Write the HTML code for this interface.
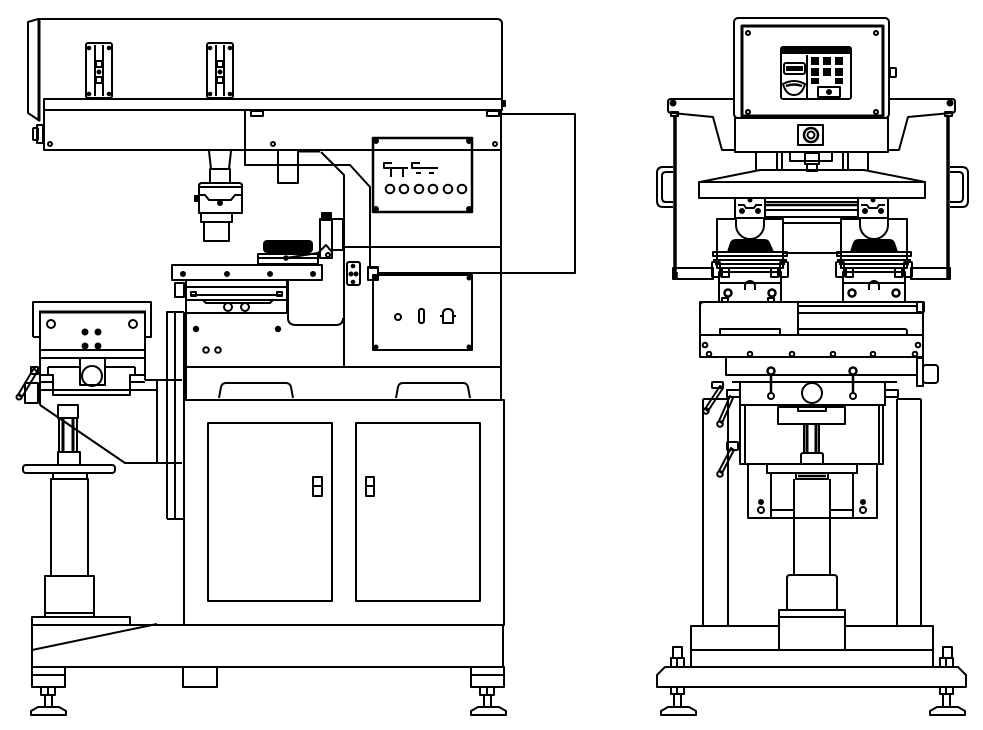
<!DOCTYPE html>
<html><head><meta charset="utf-8"><style>html,body{margin:0;padding:0;background:#fff}svg{display:block}</style></head>
<body>
<svg width="983" height="730" viewBox="0 0 983 730" xmlns="http://www.w3.org/2000/svg">
<rect x="0" y="0" width="983" height="730" fill="#fff"/>
<g fill="none" stroke="#000" stroke-width="2" stroke-linejoin="round">

<!-- ================= LEFT MACHINE ================= -->
<!-- top housing -->
<path d="M38,19 H497 Q502,19 502,24 V99"/>
<path d="M38,19 L28,22 V113 L40,121"/>
<line x1="39" y1="19" x2="39" y2="121" stroke-width="3"/>
<rect x="44" y="99" width="458" height="11"/>
<rect x="44" y="110" width="457" height="40"/>
<circle cx="50" cy="144" r="2"/>
<circle cx="273" cy="144" r="2"/>
<circle cx="495" cy="144" r="2"/>
<rect x="502" y="101" width="3" height="5" fill="#000"/>
<rect x="37" y="125" width="6" height="18"/>
<rect x="33" y="128" width="5" height="12" rx="1"/>
<!-- clips -->
<rect x="251" y="111" width="12" height="5"/>
<rect x="487" y="111" width="12" height="5"/>

<!-- brackets -->
<rect x="86" y="43" width="26" height="55" rx="2"/>
<line x1="95" y1="45" x2="95" y2="96"/><line x1="103" y1="45" x2="103" y2="96"/>
<rect x="96" y="61" width="6" height="6" fill="#fff"/><rect x="96" y="77" width="6" height="6" fill="#fff"/>
<circle cx="99" cy="72" r="1.5" fill="#000"/>
<circle cx="89" cy="48" r="1.3" fill="#000"/><circle cx="109" cy="48" r="1.3" fill="#000"/>
<circle cx="89" cy="94" r="1.3" fill="#000"/><circle cx="109" cy="94" r="1.3" fill="#000"/>
<rect x="207" y="43" width="26" height="55" rx="2"/>
<line x1="216" y1="45" x2="216" y2="96"/><line x1="224" y1="45" x2="224" y2="96"/>
<rect x="217" y="61" width="6" height="6" fill="#fff"/><rect x="217" y="77" width="6" height="6" fill="#fff"/>
<circle cx="220" cy="72" r="1.5" fill="#000"/>
<circle cx="210" cy="48" r="1.3" fill="#000"/><circle cx="230" cy="48" r="1.3" fill="#000"/>
<circle cx="210" cy="94" r="1.3" fill="#000"/><circle cx="230" cy="94" r="1.3" fill="#000"/>

<!-- cable / frame lines -->
<path d="M245,110 V165 H350 L370,187 V268 H378 V280"/>
<path d="M501,114 H575 V273 H378"/>
<rect x="368" y="267" width="10" height="13"/>
<line x1="298" y1="151" x2="320" y2="151" stroke-width="3"/>
<path d="M321,152 L344,175 V367"/>
<rect x="278" y="150" width="20" height="33"/>
<line x1="501" y1="110" x2="501" y2="400"/>
<line x1="344" y1="247" x2="501" y2="247"/>

<!-- print head -->
<path d="M209,151 L211,169 H229 L231,151"/>
<rect x="210" y="169" width="20" height="14"/>
<path d="M199,213 V186 Q199,183 202,183 H239 Q242,183 242,186 V213 Z"/>
<line x1="199" y1="187" x2="242" y2="187"/>
<path d="M199,195 H205 L209,200 H231 L235,195 H242"/>
<circle cx="220" cy="203" r="2" fill="#000"/>
<rect x="195" y="196" width="4" height="5" fill="#000"/>
<rect x="201" y="213" width="31" height="9"/>
<rect x="204" y="222" width="25" height="19"/>

<!-- ink cup -->
<rect x="264" y="241" width="48" height="11" rx="3" fill="#000"/>
<rect x="258" y="254" width="60" height="10"/>
<line x1="258" y1="258" x2="318" y2="258"/>
<rect x="320" y="219" width="12" height="39"/>
<rect x="332" y="219" width="11" height="31"/>
<rect x="322" y="213" width="9" height="7" fill="#000"/>
<path d="M286,258 L318,253 L326,245 L332,252"/>
<circle cx="286" cy="258" r="1.8"/><circle cx="328" cy="255" r="2"/>

<!-- slide table -->
<rect x="172" y="265" width="150" height="15"/>
<circle cx="183" cy="274" r="2" fill="#000"/><circle cx="227" cy="274" r="2" fill="#000"/>
<circle cx="270" cy="274" r="2" fill="#000"/><circle cx="313" cy="274" r="2" fill="#000"/>
<rect x="186" y="280" width="101" height="33"/>
<line x1="186" y1="287" x2="287" y2="287"/>
<line x1="190" y1="295" x2="283" y2="295"/>
<path d="M203,300 L206,303 H270 L273,300"/>
<line x1="186" y1="300" x2="287" y2="300"/>
<rect x="191" y="292" width="5" height="4"/><rect x="277" y="292" width="5" height="4"/>
<circle cx="228" cy="307" r="4"/><circle cx="245" cy="307" r="4"/>
<rect x="175" y="283" width="9" height="14"/>
<path d="M288,280 V318 Q288,325 296,325 H336 Q343,325 343,318"/>

<!-- column under table -->
<path d="M167,519 V312 H184"/>
<line x1="175" y1="312" x2="175" y2="519"/>
<line x1="167" y1="519" x2="184" y2="519"/>
<line x1="185" y1="312" x2="185" y2="400" stroke-width="4"/>
<line x1="184" y1="400" x2="184" y2="625"/>
<line x1="186" y1="367" x2="502" y2="367"/>
<circle cx="196" cy="329" r="2.2" fill="#000"/><circle cx="278" cy="329" r="2.2" fill="#000"/>
<circle cx="206" cy="350" r="2.8"/><circle cx="218" cy="350" r="2.8"/>

<!-- upper control panel -->
<rect x="373" y="138" width="99" height="74" stroke-width="2.5"/>
<circle cx="376" cy="141" r="2" fill="#000"/><circle cx="469" cy="141" r="2" fill="#000"/>
<circle cx="376" cy="209" r="2" fill="#000"/><circle cx="469" cy="209" r="2" fill="#000"/>
<path d="M392,163 H384 V168 H408"/>
<line x1="391" y1="168" x2="391" y2="177"/><line x1="403" y1="168" x2="403" y2="177"/>
<path d="M420,163 H412 V168 H438"/>
<line x1="416" y1="173" x2="421" y2="173"/><line x1="429" y1="173" x2="434" y2="173"/>
<circle cx="390" cy="189" r="4.3"/><circle cx="404" cy="189" r="4.3"/>
<circle cx="419" cy="189" r="4.3"/><circle cx="433" cy="189" r="4.3"/>
<circle cx="448" cy="189" r="4.3"/><circle cx="462" cy="189" r="4.3"/>

<!-- bracket between -->
<rect x="347" y="262" width="13" height="23" rx="2"/>
<circle cx="351" cy="274" r="1.5" fill="#000"/><circle cx="356" cy="274" r="1.5" fill="#000"/>
<circle cx="353" cy="266" r="1.3" fill="#000"/><circle cx="353" cy="282" r="1.3" fill="#000"/>

<!-- lower control panel -->
<rect x="373" y="275" width="99" height="75"/>
<circle cx="376" cy="278" r="1.5" fill="#000"/><circle cx="469" cy="278" r="1.5" fill="#000"/>
<circle cx="376" cy="347" r="1.5" fill="#000"/><circle cx="469" cy="347" r="1.5" fill="#000"/>
<circle cx="398" cy="317" r="3"/>
<rect x="419" y="309" width="5" height="14" rx="2"/>
<path d="M443,323 V314 Q443,309 448,309 Q453,309 453,314 V323 Z M440,316 H443 M453,316 H456"/>

<!-- cabinet -->
<rect x="184" y="400" width="320" height="225"/>
<path d="M219,398 L221,387 Q222,383 226,383 H286 Q290,383 291,387 L293,398"/>
<path d="M396,398 L398,387 Q399,383 403,383 H463 Q467,383 468,387 L470,398"/>
<rect x="208" y="423" width="124" height="178"/>
<rect x="356" y="423" width="124" height="178"/>
<rect x="313" y="477" width="9" height="19"/><line x1="313" y1="486" x2="322" y2="486"/>
<rect x="366" y="477" width="8" height="19"/><line x1="366" y1="486" x2="374" y2="486"/>

<!-- base -->
<rect x="32" y="625" width="471" height="42"/>
<rect x="32" y="617" width="98" height="8"/>
<line x1="32" y1="650" x2="157" y2="624"/>
<rect x="32" y="667" width="33" height="20"/><line x1="32" y1="675" x2="65" y2="675"/>
<rect x="471" y="667" width="33" height="20"/><line x1="471" y1="675" x2="504" y2="675"/>
<rect x="183" y="667" width="34" height="20"/>
<rect x="41" y="687" width="14" height="8"/><line x1="48" y1="687" x2="48" y2="695"/>
<line x1="45" y1="695" x2="45" y2="707"/><line x1="52" y1="695" x2="52" y2="707"/>
<path d="M31,715 V711 L38,707 H59 L66,711 V715 Z"/>
<rect x="480" y="687" width="14" height="8"/><line x1="487" y1="687" x2="487" y2="695"/>
<line x1="484" y1="695" x2="484" y2="707"/><line x1="491" y1="695" x2="491" y2="707"/>
<path d="M471,715 V711 L478,707 H499 L506,711 V715 Z"/>

<!-- left station -->
<path d="M33,337 V302 H151 V337 H145 M33,337 H40"/>
<line x1="39" y1="312" x2="146" y2="312" stroke-width="3"/>
<line x1="40" y1="312" x2="40" y2="405" stroke-width="2"/>
<line x1="145" y1="312" x2="145" y2="380"/>
<circle cx="51" cy="324" r="4"/><circle cx="133" cy="324" r="4"/>
<circle cx="85" cy="332" r="2.5" fill="#000"/><circle cx="98" cy="332" r="2.5" fill="#000"/>
<circle cx="85" cy="346" r="2.5" fill="#000"/><circle cx="98" cy="346" r="2.5" fill="#000"/>
<line x1="40" y1="350" x2="145" y2="350"/>
<line x1="40" y1="358" x2="145" y2="358"/>
<rect x="80" y="358" width="25" height="27"/>
<circle cx="92" cy="376" r="10"/>
<path d="M48,367 H80 M105,367 H135 M48,367 V375 H40 M48,375 H53 V395 H130 V375 H145 M135,367 V375"/>
<line x1="40" y1="382" x2="53" y2="382"/><line x1="130" y1="382" x2="145" y2="382"/>
<line x1="40" y1="390" x2="157" y2="390"/>
<path d="M145,380 H182"/>
<path d="M40,405 L125,463 H182"/>
<line x1="157" y1="380" x2="157" y2="463"/>
<path d="M25,383 H38 V403 H25 Z"/>
<path d="M34,368 L37,372 L22,397 L18,395 Z"/>
<circle cx="19" cy="397" r="2.5"/>
<rect x="31" y="367" width="7" height="7"/>
<!-- column under station -->
<rect x="58" y="405" width="20" height="13"/>
<line x1="63" y1="418" x2="63" y2="452" stroke-width="3"/><line x1="73" y1="418" x2="73" y2="452" stroke-width="3"/>
<line x1="59" y1="418" x2="59" y2="452"/><line x1="77" y1="418" x2="77" y2="452"/>
<rect x="58" y="452" width="22" height="13"/>
<rect x="23" y="465" width="92" height="8" rx="3"/>
<rect x="53" y="473" width="34" height="6"/>
<rect x="51" y="479" width="37" height="97"/>
<rect x="45" y="576" width="49" height="41"/>
<line x1="45" y1="613" x2="94" y2="613"/>

<!-- ================= RIGHT MACHINE ================= -->
<rect x="734" y="18" width="155" height="100" rx="4"/>
<rect x="742" y="26" width="141" height="90" stroke-width="3"/>
<circle cx="748" cy="33" r="2"/><circle cx="876" cy="33" r="2"/>
<circle cx="748" cy="112" r="2"/><circle cx="876" cy="112" r="2"/>
<rect x="890" y="68" width="6" height="9" rx="1"/>
<!-- display -->
<rect x="781" y="47" width="70" height="52" rx="2"/>
<rect x="782" y="48" width="68" height="6" fill="#000" stroke="none"/>
<rect x="784" y="63" width="21" height="11" rx="2"/>
<rect x="786" y="66" width="17" height="5" fill="#000" stroke="none"/>
<path d="M783,84 Q794,78 805,84 Q802,95 794,95 Q786,95 783,84 Z"/>
<path d="M786,86 Q794,83 802,86" stroke-width="2.5"/>
<line x1="807" y1="55" x2="807" y2="98"/>
<rect x="811" y="57" width="8" height="8" fill="#000" stroke="none"/>
<rect x="823" y="57" width="8" height="8" fill="#000" stroke="none"/>
<rect x="835" y="57" width="8" height="8" fill="#000" stroke="none"/>
<rect x="811" y="68" width="8" height="8" fill="#000" stroke="none"/>
<rect x="823" y="68" width="8" height="8" fill="#000" stroke="none"/>
<rect x="835" y="68" width="8" height="8" fill="#000" stroke="none"/>
<rect x="811" y="78" width="8" height="6" fill="#000" stroke="none"/>
<rect x="835" y="78" width="8" height="6" fill="#000" stroke="none"/>
<rect x="818" y="87" width="22" height="10"/>
<circle cx="829" cy="92" r="2" fill="#000"/>
<!-- lower box and wings -->
<rect x="735" y="118" width="153" height="34"/>
<rect x="798" y="125" width="25" height="20"/>
<circle cx="811" cy="135" r="7" stroke-width="2.5"/>
<circle cx="811" cy="135" r="3.5"/>
<path d="M734,99 H671 Q668,99 668,102 V110 Q668,113 672,113 L713,117 L722,150 H735"/>
<path d="M889,99 H952 Q955,99 955,102 V110 Q955,113 951,113 L908,117 L899,150 H888"/>
<circle cx="673" cy="103" r="2.5" fill="#000"/><circle cx="950" cy="103" r="2.5" fill="#000"/>
<rect x="671" y="112" width="7" height="4"/><rect x="945" y="112" width="7" height="4"/>
<line x1="675" y1="116" x2="675" y2="278" stroke-width="3.5"/>
<line x1="948" y1="116" x2="948" y2="278" stroke-width="3.5"/>
<path d="M673,278 V272 M677,278 V272" stroke-width="1.5"/>
<!-- handles -->
<path d="M673,167 H663 Q657,167 657,173 V201 Q657,207 663,207 H673"/>
<path d="M673,172 H666 Q662,172 662,176 V198 Q662,202 666,202 H673"/>
<path d="M950,167 H962 Q968,167 968,173 V201 Q968,207 962,207 H950"/>
<path d="M950,172 H959 Q963,172 963,176 V198 Q963,202 959,202 H950"/>
<!-- under box -->
<line x1="756" y1="152" x2="756" y2="171"/>
<line x1="777" y1="152" x2="777" y2="171"/>
<line x1="782" y1="152" x2="782" y2="171"/>
<rect x="790" y="152" width="42" height="9"/>
<rect x="805" y="153" width="14" height="11"/>
<rect x="807" y="164" width="10" height="7"/>
<line x1="843" y1="152" x2="843" y2="171"/>
<line x1="848" y1="152" x2="848" y2="171"/>
<line x1="868" y1="152" x2="868" y2="171"/>
<!-- plate -->
<path d="M700,182 L760,170 H864 L925,182"/>
<rect x="699" y="182" width="226" height="16"/>
<!-- rail -->
<rect x="765" y="202" width="93" height="15"/>
<line x1="765" y1="205" x2="858" y2="205" stroke-width="2.5"/>
<line x1="765" y1="210" x2="858" y2="210"/>
<!-- heads -->
<rect x="735" y="198" width="30" height="20"/>
<path d="M738,205 H744 L746,208 H754 L756,205 H762"/>
<circle cx="750" cy="200" r="1.5" fill="#000"/>
<circle cx="742" cy="211" r="2" fill="#000"/><circle cx="758" cy="211" r="2" fill="#000"/>
<rect x="858" y="198" width="30" height="20"/>
<path d="M861,205 H867 L869,208 H877 L879,205 H885"/>
<circle cx="873" cy="200" r="1.5" fill="#000"/>
<circle cx="865" cy="211" r="2" fill="#000"/><circle cx="881" cy="211" r="2" fill="#000"/>

<rect x="717" y="219" width="66" height="49"/>
<rect x="841" y="219" width="66" height="49"/>
<line x1="783" y1="223" x2="841" y2="223"/>
<line x1="783" y1="253" x2="841" y2="253"/>
<!-- left head inner -->
<path d="M736,219 V225 A14,14 0 0 0 764,225 V219" fill="#fff"/>
<path d="M728,252 L731,243 Q732,240 736,240 H764 Q768,240 769,243 L773,252 Z" fill="#000"/>
<rect x="713" y="252" width="74" height="4"/>
<line x1="713" y1="260" x2="787" y2="260"/>
<line x1="715" y1="264" x2="785" y2="264"/>
<rect x="712" y="262" width="8" height="15" rx="1"/>
<rect x="780" y="262" width="8" height="15" rx="1"/>
<rect x="722" y="268" width="7" height="9"/>
<rect x="771" y="268" width="7" height="9"/>
<rect x="719" y="272" width="62" height="30"/>
<line x1="719" y1="283" x2="781" y2="283"/>
<path d="M745,290 V286 A5,5 0 0 1 755,286 V290"/>
<circle cx="728" cy="293" r="3.5" stroke-width="2.5"/>
<circle cx="772" cy="293" r="3.5" stroke-width="2.5"/>
<!-- right head inner -->
<path d="M860,219 V225 A14,14 0 0 0 888,225 V219" fill="#fff"/>
<path d="M851,252 L854,243 Q855,240 859,240 H889 Q893,240 894,243 L897,252 Z" fill="#000"/>
<rect x="837" y="252" width="74" height="4"/>
<line x1="837" y1="260" x2="911" y2="260"/>
<line x1="839" y1="264" x2="909" y2="264"/>
<rect x="836" y="262" width="8" height="15" rx="1"/>
<rect x="904" y="262" width="8" height="15" rx="1"/>
<rect x="846" y="268" width="7" height="9"/>
<rect x="895" y="268" width="7" height="9"/>
<rect x="843" y="272" width="62" height="30"/>
<line x1="843" y1="283" x2="905" y2="283"/>
<path d="M869,290 V286 A5,5 0 0 1 879,286 V290"/>
<circle cx="852" cy="293" r="3.5" stroke-width="2.5"/>
<circle cx="896" cy="293" r="3.5" stroke-width="2.5"/>
<!-- side bars -->
<rect x="673" y="268" width="40" height="11"/>
<rect x="911" y="268" width="39" height="11"/>

<!-- table -->
<rect x="700" y="302" width="223" height="55"/>
<path d="M700,335 V306 Q700,302 704,302 H798 V335"/>
<line x1="798" y1="306" x2="917" y2="306"/>
<line x1="798" y1="313" x2="922" y2="313"/>
<rect x="798" y="329" width="109" height="6" rx="2"/>
<rect x="720" y="329" width="60" height="6"/>
<line x1="700" y1="335" x2="923" y2="335"/>
<rect x="917" y="302" width="7" height="10" rx="1"/>
<path d="M722,302 V298 H728 V302 M768,302 V298 H774 V302"/>
<circle cx="705" cy="345" r="2.3"/><circle cx="918" cy="345" r="2.3"/>
<circle cx="709" cy="354" r="2.3"/><circle cx="750" cy="354" r="2.3"/>
<circle cx="792" cy="354" r="2.3"/><circle cx="833" cy="354" r="2.3"/>
<circle cx="873" cy="354" r="2.3"/><circle cx="915" cy="354" r="2.3"/>
<!-- below table -->
<rect x="726" y="357" width="191" height="18"/>
<line x1="732" y1="382" x2="897" y2="382"/>
<rect x="917" y="358" width="6" height="28"/>
<rect x="923" y="365" width="15" height="18" rx="3"/>
<circle cx="771" cy="371" r="3.5" stroke-width="2.5"/>
<circle cx="853" cy="371" r="3.5" stroke-width="2.5"/>
<line x1="771" y1="375" x2="771" y2="393" stroke-width="2.5"/>
<line x1="853" y1="375" x2="853" y2="393" stroke-width="2.5"/>
<circle cx="771" cy="396" r="3"/><circle cx="853" cy="396" r="3"/>
<path d="M740,382 V405 H885 V382"/>
<rect x="727" y="390" width="13" height="7"/>
<rect x="885" y="390" width="13" height="7"/>
<circle cx="812" cy="393" r="10"/>
<!-- body -->
<rect x="740" y="405" width="143" height="59"/>
<line x1="745" y1="405" x2="745" y2="464"/>
<line x1="879" y1="405" x2="879" y2="464"/>
<rect x="778" y="407" width="67" height="17"/>
<rect x="798" y="407" width="28" height="4"/>
<rect x="804" y="424" width="15" height="29"/>
<line x1="807" y1="424" x2="807" y2="453" stroke-width="3"/>
<line x1="816" y1="424" x2="816" y2="453" stroke-width="3"/>
<path d="M801,464 V455 Q801,453 803,453 H821 Q823,453 823,455 V464"/>
<rect x="767" y="464" width="90" height="9"/>
<rect x="748" y="464" width="129" height="54"/>
<line x1="771" y1="473" x2="771" y2="518"/>
<line x1="853" y1="473" x2="853" y2="518"/>
<line x1="771" y1="510" x2="794" y2="510"/>
<line x1="830" y1="510" x2="853" y2="510"/>
<circle cx="761" cy="502" r="2" fill="#000"/><circle cx="761" cy="510" r="3"/>
<circle cx="863" cy="502" r="2" fill="#000"/><circle cx="863" cy="510" r="3"/>
<rect x="796" y="473" width="32" height="6"/>
<line x1="798" y1="476" x2="826" y2="476" stroke-width="2.5"/>
<line x1="794" y1="479" x2="794" y2="575"/>
<line x1="830" y1="479" x2="830" y2="575"/>
<!-- legs -->
<line x1="703" y1="399" x2="728" y2="399"/>
<line x1="703" y1="399" x2="703" y2="626"/>
<line x1="728" y1="399" x2="728" y2="626"/>
<line x1="897" y1="399" x2="921" y2="399"/>
<line x1="897" y1="399" x2="897" y2="626"/>
<line x1="921" y1="399" x2="921" y2="626"/>
<!-- left levers -->
<rect x="712" y="382" width="11" height="6" rx="1"/>
<path d="M720,386 L723,388 L708,411 L705,409 Z"/>
<circle cx="706" cy="411" r="2.8"/>
<path d="M730,396 L733,398 L722,423 L719,421 Z"/>
<circle cx="720" cy="424" r="2.8"/>
<rect x="727" y="442" width="11" height="8" rx="1"/>
<path d="M731,448 L734,450 L722,473 L719,471 Z"/>
<circle cx="720" cy="474" r="2.8"/>
<!-- base -->
<path d="M787,610 V578 Q787,575 790,575 H834 Q837,575 837,578 V610"/>
<rect x="779" y="610" width="66" height="7"/>
<line x1="779" y1="617" x2="779" y2="650"/>
<line x1="845" y1="617" x2="845" y2="650"/>
<path d="M691,650 V626 H779"/>
<path d="M933,650 V626 H845"/>
<rect x="691" y="650" width="242" height="17"/>
<path d="M657,687 V675 L665,667 H958 L966,675 V687 Z"/>
<rect x="673" y="647" width="9" height="11"/>
<rect x="671" y="658" width="13" height="9"/><line x1="677" y1="658" x2="677" y2="667"/>
<rect x="671" y="687" width="13" height="7"/><line x1="677" y1="687" x2="677" y2="694"/>
<line x1="674" y1="694" x2="674" y2="707"/><line x1="681" y1="694" x2="681" y2="707"/>
<path d="M661,715 V711 L668,707 H689 L696,711 V715 Z"/>
<rect x="943" y="647" width="9" height="11"/>
<rect x="940" y="658" width="13" height="9"/><line x1="946" y1="658" x2="946" y2="667"/>
<rect x="940" y="687" width="13" height="7"/><line x1="946" y1="687" x2="946" y2="694"/>
<line x1="943" y1="694" x2="943" y2="707"/><line x1="950" y1="694" x2="950" y2="707"/>
<path d="M930,715 V711 L937,707 H958 L965,711 V715 Z"/>
</g>
</svg>
</body></html>
